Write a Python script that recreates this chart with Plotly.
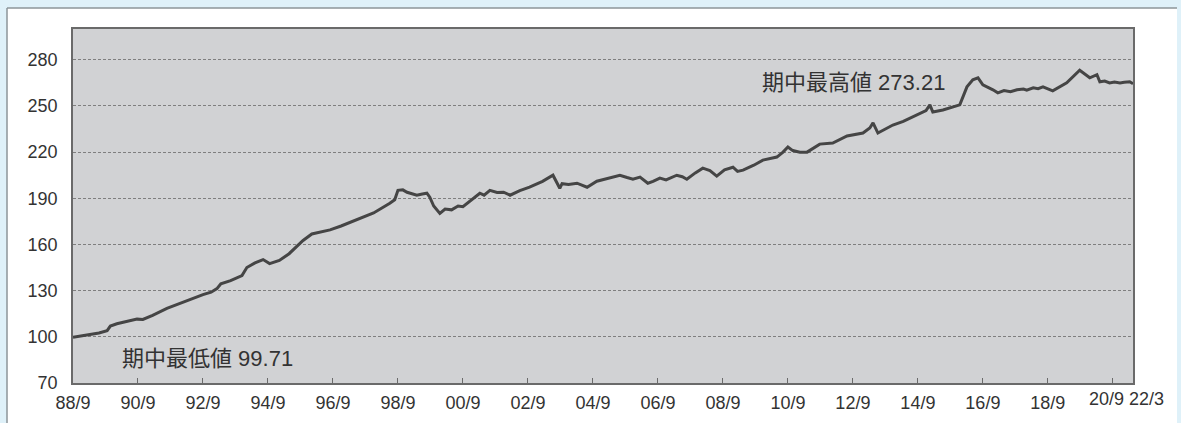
import plotly.graph_objects as go

# decimal year positions (88/9 = 1988.75) and fund index values
years = [1988.75, 1989.0, 1989.3, 1989.55, 1989.8, 1989.9, 1990.1, 1990.4, 1990.72, 1990.9,
         1991.2, 1991.64, 1992.0, 1992.4, 1992.75, 1993.0, 1993.18, 1993.3, 1993.6, 1993.95,
         1994.1, 1994.35, 1994.6, 1994.8, 1995.1, 1995.4, 1995.83, 1996.1, 1996.66, 1997.0,
         1997.5, 1998.0, 1998.5, 1998.65, 1998.75, 1998.9, 1999.03, 1999.2, 1999.33, 1999.5,
         1999.64, 1999.73, 1999.85, 2000.04, 2000.2, 2000.4, 2000.6, 2000.75, 2001.0, 2001.27,
         2001.4, 2001.58, 2001.8, 2002.0, 2002.2, 2002.5, 2002.8, 2003.2, 2003.52, 2003.6,
         2003.73, 2003.8, 2004.0, 2004.26, 2004.57, 2004.87, 2005.2, 2005.58, 2005.8, 2005.98,
         2006.2, 2006.44, 2006.6, 2006.81, 2007.0, 2007.33, 2007.5, 2007.64, 2007.9, 2008.13,
         2008.35, 2008.56, 2008.8, 2009.06, 2009.2, 2009.37, 2009.7, 2009.98, 2010.41, 2010.6,
         2010.75, 2010.9, 2011.12, 2011.34, 2011.73, 2012.13, 2012.57, 2013.06, 2013.27, 2013.37,
         2013.52, 2013.98, 2014.3, 2014.72, 2015.0, 2015.12, 2015.21, 2015.52, 2016.04, 2016.26,
         2016.44, 2016.6, 2016.75, 2017.06, 2017.21, 2017.4, 2017.6, 2017.8, 2018.0, 2018.1,
         2018.3, 2018.45, 2018.6, 2018.9, 2019.33, 2019.73, 2020.04, 2020.26, 2020.35, 2020.5,
         2020.65, 2020.8, 2020.97, 2021.1, 2021.27, 2021.37]
values = [99.71, 100.5, 101.5, 102.5, 104.0, 107.0, 108.5, 110.0, 111.5, 111.3,
          114.0, 118.5, 121.5, 124.8, 127.4, 129.0, 131.3, 134.5, 136.5, 139.8,
          145.0, 148.0, 150.2, 147.6, 149.6, 154.0, 162.6, 166.8, 169.5, 172.0,
          176.5, 180.5, 186.8, 189.0, 195.2, 195.5, 193.9, 193.0, 192.0, 192.8,
          193.3, 190.7, 185.0, 180.2, 183.0, 182.5, 185.0, 184.5, 188.5, 193.3,
          192.0, 195.2, 193.8, 194.0, 192.0, 195.0, 197.2, 201.0, 205.0, 201.5,
          196.5, 199.5, 199.0, 199.8, 197.2, 201.1, 203.0, 205.0, 203.5, 202.4,
          203.8, 199.8, 201.0, 203.1, 202.0, 205.0, 204.0, 202.4, 206.5, 209.6,
          208.0, 204.4, 208.5, 210.2, 207.5, 208.3, 211.5, 214.8, 216.8, 220.0,
          223.3, 221.0, 220.0, 220.0, 225.2, 225.9, 230.5, 232.4, 235.7, 239.0,
          232.4, 237.6, 240.0, 244.2, 247.0, 250.7, 246.1, 247.4, 250.7, 262.4,
          267.0, 268.3, 263.7, 260.5, 258.5, 260.0, 259.2, 260.5, 261.0, 260.3,
          261.8, 261.2, 262.4, 259.8, 265.0, 273.21, 268.3, 270.3, 265.7, 266.2,
          265.0, 265.5, 265.0, 265.4, 265.7, 264.5]

tick_vals = [1988.75 + 2 * i for i in range(17)]
tick_text = ["88/9", "90/9", "92/9", "94/9", "96/9", "98/9", "00/9", "02/9", "04/9",
             "06/9", "08/9", "10/9", "12/9", "14/9", "16/9", "18/9", "20/9"]
last_label = "22/3"
y_ticks = [70, 100, 130, 160, 190, 220, 250, 280]

label_min = "期中最低値 99.71"
label_max = "期中最高値 273.21"

tick_font = dict(family="Liberation Sans, Arial", size=18, color="#333333")
ann_font = dict(family="Liberation Sans, Noto Sans CJK JP", size=22, color="#333333")

fig = go.Figure()
fig.add_trace(go.Scatter(x=years, y=values, mode="lines",
                         line=dict(color="#454545", width=3), hoverinfo="skip",
                         showlegend=False))

W, H = 1181, 423
L, R, T, B = 73, 48, 29, 40
pw, ph = W - L - R, H - T - B


def px_x(px):
    return (px - L) / pw


def px_y(py):
    return (H - B - py) / ph


blue = "#dff1f9"
shapes = [
    dict(type="rect", xref="paper", yref="paper", x0=px_x(-5), x1=px_x(W + 5),
         y0=px_y(8), y1=px_y(-5), fillcolor=blue, line=dict(width=0), layer="below"),
    dict(type="rect", xref="paper", yref="paper", x0=px_x(-5), x1=px_x(7),
         y0=px_y(H + 5), y1=px_y(-5), fillcolor=blue, line=dict(width=0), layer="below"),
    dict(type="rect", xref="paper", yref="paper", x0=px_x(1177), x1=px_x(W + 5),
         y0=px_y(H + 5), y1=px_y(-5), fillcolor=blue, line=dict(width=0), layer="below"),
    dict(type="line", xref="paper", yref="paper", x0=px_x(7), x1=px_x(1177),
         y0=px_y(8), y1=px_y(8), line=dict(color="#8c9498", width=1.5)),
    dict(type="line", xref="paper", yref="paper", x0=px_x(7), x1=px_x(7),
         y0=px_y(8), y1=px_y(H + 5), line=dict(color="#8c9498", width=1.5)),
]

shown_ticktext = tick_text[:-1] + [""]

fig.update_layout(
    template="none",
    width=W, height=H,
    margin=dict(l=L, r=R, t=T, b=B, pad=0, autoexpand=False),
    paper_bgcolor="white",
    plot_bgcolor="#d1d2d4",
    shapes=shapes,
    xaxis=dict(range=[1988.75, 2021.37], tickvals=tick_vals, ticktext=shown_ticktext,
               automargin=False,
               showgrid=False, zeroline=False, showline=True, linecolor="#6a6a6a",
               linewidth=1.5, mirror=True, ticks="inside", ticklen=5, tickcolor="#6a6a6a",
               tickwidth=1, tickfont=tick_font, ticklabelstandoff=3),
    yaxis=dict(range=[70, 300], tickvals=y_ticks, showgrid=True, gridcolor="#7f7f7f",
               automargin=False,
               griddash="3px,2px", gridwidth=1, zeroline=False, showline=True,
               linecolor="#6a6a6a", linewidth=1.5, mirror=True, ticks="",
               tickfont=tick_font, ticklabelstandoff=10),
    annotations=[
        dict(xref="paper", yref="paper", x=px_x(1106), y=0, yanchor="top", xanchor="center",
             yshift=-4, text=tick_text[-1], showarrow=False, font=tick_font),
        dict(xref="paper", yref="paper", x=px_x(1146), y=0, yanchor="top", xanchor="center",
             yshift=-4, text=last_label, showarrow=False, font=tick_font),
        dict(x=1990.2, y=86, xanchor="left", yanchor="middle", text=label_min,
             showarrow=False, font=ann_font),
        dict(x=2009.9, y=265, xanchor="left", yanchor="middle", text=label_max,
             showarrow=False, font=ann_font),
    ],
)

fig.write_html("out.html", config={"displayModeBar": False},
               post_script="document.body.style.margin='0';"
                           "document.body.style.overflow='hidden';")
